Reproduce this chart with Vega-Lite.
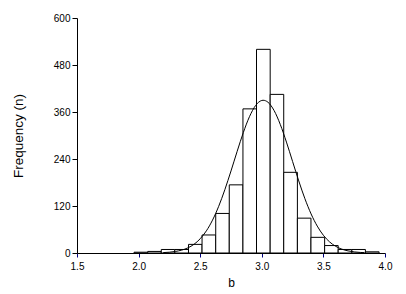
{
 "$schema": "https://vega.github.io/schema/vega-lite/v6.json",
 "width": 308,
 "height": 235,
 "autosize": {"type": "none"},
 "padding": {"left": 77, "top": 18, "right": 21, "bottom": 41},
 "background": "white",
 "config": {"view": {"stroke": null}, "font": "Liberation Sans"},
 "datasets": {
  "bars": [
   {"b0": 1.963, "b1": 2.074, "n": 2},
   {"b0": 2.074, "b1": 2.184, "n": 4},
   {"b0": 2.184, "b1": 2.294, "n": 9},
   {"b0": 2.294, "b1": 2.405, "n": 9},
   {"b0": 2.405, "b1": 2.515, "n": 22},
   {"b0": 2.515, "b1": 2.626, "n": 46},
   {"b0": 2.626, "b1": 2.736, "n": 101},
   {"b0": 2.736, "b1": 2.847, "n": 174},
   {"b0": 2.847, "b1": 2.957, "n": 368},
   {"b0": 2.957, "b1": 3.068, "n": 520},
   {"b0": 3.068, "b1": 3.178, "n": 405},
   {"b0": 3.178, "b1": 3.289, "n": 206},
   {"b0": 3.289, "b1": 3.399, "n": 89},
   {"b0": 3.399, "b1": 3.510, "n": 40},
   {"b0": 3.510, "b1": 3.620, "n": 19},
   {"b0": 3.620, "b1": 3.731, "n": 9},
   {"b0": 3.731, "b1": 3.841, "n": 9},
   {"b0": 3.841, "b1": 3.952, "n": 3}
  ],
  "curve": [
   {"b": 2.20, "n": 1.0}, {"b": 2.25, "n": 2.0}, {"b": 2.30, "n": 4.0}, {"b": 2.35, "n": 7.4},
   {"b": 2.40, "n": 13.1}, {"b": 2.45, "n": 22.3}, {"b": 2.50, "n": 36.4}, {"b": 2.55, "n": 56.5},
   {"b": 2.60, "n": 83.9}, {"b": 2.65, "n": 119.1}, {"b": 2.70, "n": 161.6}, {"b": 2.75, "n": 209.5},
   {"b": 2.80, "n": 259.6}, {"b": 2.85, "n": 307.5}, {"b": 2.90, "n": 348.1}, {"b": 2.95, "n": 376.7},
   {"b": 3.00, "n": 389.5}, {"b": 3.01, "n": 390.0}, {"b": 3.05, "n": 384.9}, {"b": 3.10, "n": 363.6},
   {"b": 3.15, "n": 328.2}, {"b": 3.20, "n": 283.2}, {"b": 3.25, "n": 233.5}, {"b": 3.30, "n": 184.0},
   {"b": 3.35, "n": 138.6}, {"b": 3.40, "n": 99.8}, {"b": 3.45, "n": 68.7}, {"b": 3.50, "n": 45.2},
   {"b": 3.55, "n": 28.4}, {"b": 3.60, "n": 17.0}, {"b": 3.65, "n": 9.8}, {"b": 3.70, "n": 5.4},
   {"b": 3.75, "n": 2.8}, {"b": 3.80, "n": 1.4}, {"b": 3.83, "n": 0.9}
  ]
 },
 "layer": [
  {
   "data": {"name": "bars"},
   "mark": {"type": "bar", "fill": "white", "stroke": "black", "strokeWidth": 1},
   "encoding": {
    "x": {
     "field": "b0", "type": "quantitative",
     "scale": {"domain": [1.5, 4.0], "nice": false, "zero": false},
     "axis": {
      "title": "b", "values": [1.5, 2.0, 2.5, 3.0, 3.5, 4.0], "format": ".1f",
      "grid": false, "labelFlush": false, "tickSize": 4, "tickColor": "#000080",
      "domainColor": "black", "labelColor": "black", "labelFontSize": 10, "labelPadding": 4,
      "titleFontSize": 12, "titleFontWeight": "normal", "titleColor": "black", "titlePadding": 6
     }
    },
    "x2": {"field": "b1"},
    "y": {
     "field": "n", "type": "quantitative",
     "scale": {"domain": [0, 600], "nice": false},
     "axis": {
      "title": "Frequency (n)", "values": [0, 120, 240, 360, 480, 600],
      "grid": false, "tickSize": 5, "tickColor": "black", "domainColor": "black",
      "labelColor": "black", "labelFontSize": 10, "labelPadding": 2,
      "titleFontSize": 13.5, "titleFontWeight": "normal", "titleColor": "black", "titlePadding": 28
     }
    },
    "y2": {"datum": 0}
   }
  },
  {
   "data": {"name": "curve"},
   "mark": {"type": "line", "color": "black", "strokeWidth": 1, "interpolate": "monotone"},
   "encoding": {
    "x": {"field": "b", "type": "quantitative"},
    "y": {"field": "n", "type": "quantitative"}
   }
  }
 ]
}
